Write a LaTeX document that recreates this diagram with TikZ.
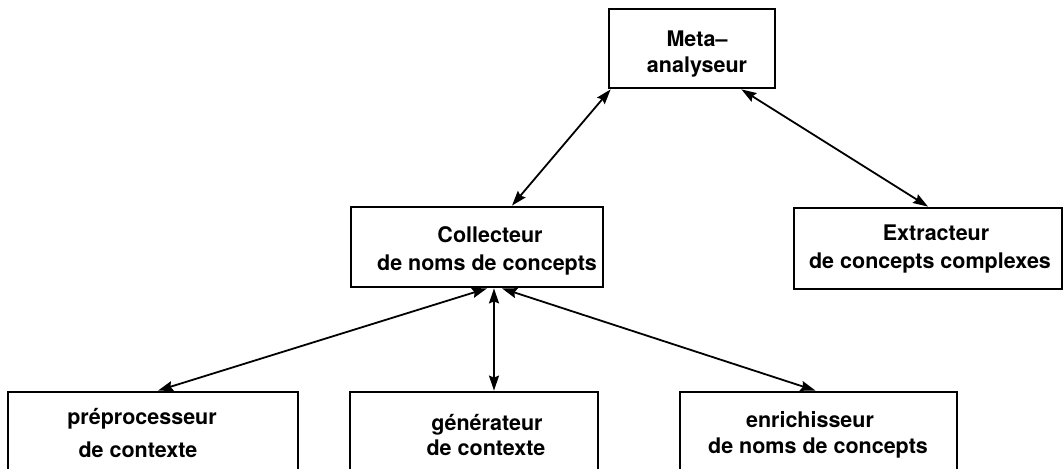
\documentclass[tikz,border=0pt]{standalone}
\usepackage{fontspec}
\setmainfont{TeX Gyre Heros}
\usetikzlibrary{arrows.meta}

\tikzset{
  box/.style={draw, line width=2.8pt, inner sep=0pt},
  txt/.style={font=\bfseries\fontsize{21.5}{26}\selectfont, anchor=base, inner sep=0pt},
  link/.style={line width=1.8pt,
    {Stealth[length=15pt,width=10pt,inset=2pt]}-{Stealth[length=15pt,width=10pt,inset=2pt]}},
}

\begin{document}
\begin{tikzpicture}[x=1pt, y=-1pt]
  \useasboundingbox (0,0) rectangle (1064,468);
  \clip (0,0) rectangle (1064,468);

  % boxes
  \node[box, minimum width=166pt, minimum height=79pt]  (meta) at (692,48.5) {};
  \node[box, minimum width=252pt, minimum height=80pt]  (coll) at (477,247) {};
  \node[box, minimum width=268pt, minimum height=81pt]  (extr) at (928,248.5) {};
  \node[box, minimum width=290pt, minimum height=108pt] (prep) at (153,446) {};
  \node[box, minimum width=248pt, minimum height=108pt] (gen)  at (474,446) {};
  \node[box, minimum width=277pt, minimum height=108pt] (enr)  at (818.5,446) {};

  % labels
  \node[txt] (meta1) at (697,47)  {Meta–};
  \node[txt] (meta2) at (697,73)  {analyseur};
  \node[txt] (coll1) at (490,242) {Collecteur};
  \node[txt] (coll2) at (487,270) {de noms de concepts};
  \node[txt] (extr1) at (936,240) {Extracteur};
  \node[txt] (extr2) at (930,268) {de concepts complexes};
  \node[txt] (prep1) at (142,424) {préprocesseur};
  \node[txt] (prep2) at (138,457) {de contexte};
  \node[txt] (gen1)  at (487,430) {générateur};
  \node[txt] (gen2)  at (486,455) {de contexte};
  \node[txt] (enr1)  at (810,427) {enrichisseur};
  \node[txt] (enr2)  at (818,453) {de noms de concepts};

  % links
  \draw[link] ([xshift=3pt]meta.south west) -- ([xshift=35pt]coll.north);
  \draw[link] ([xshift=-35pt]meta.south east) -- (extr.north);
  \draw[link] ([xshift=10pt]coll.south) -- ([xshift=5pt]prep.north);
  \draw[link] ([xshift=17pt]coll.south) -- ([xshift=20pt]gen.north);
  \draw[link] ([xshift=25pt]coll.south) -- ([xshift=-3pt]enr.north);
\end{tikzpicture}
\end{document}
